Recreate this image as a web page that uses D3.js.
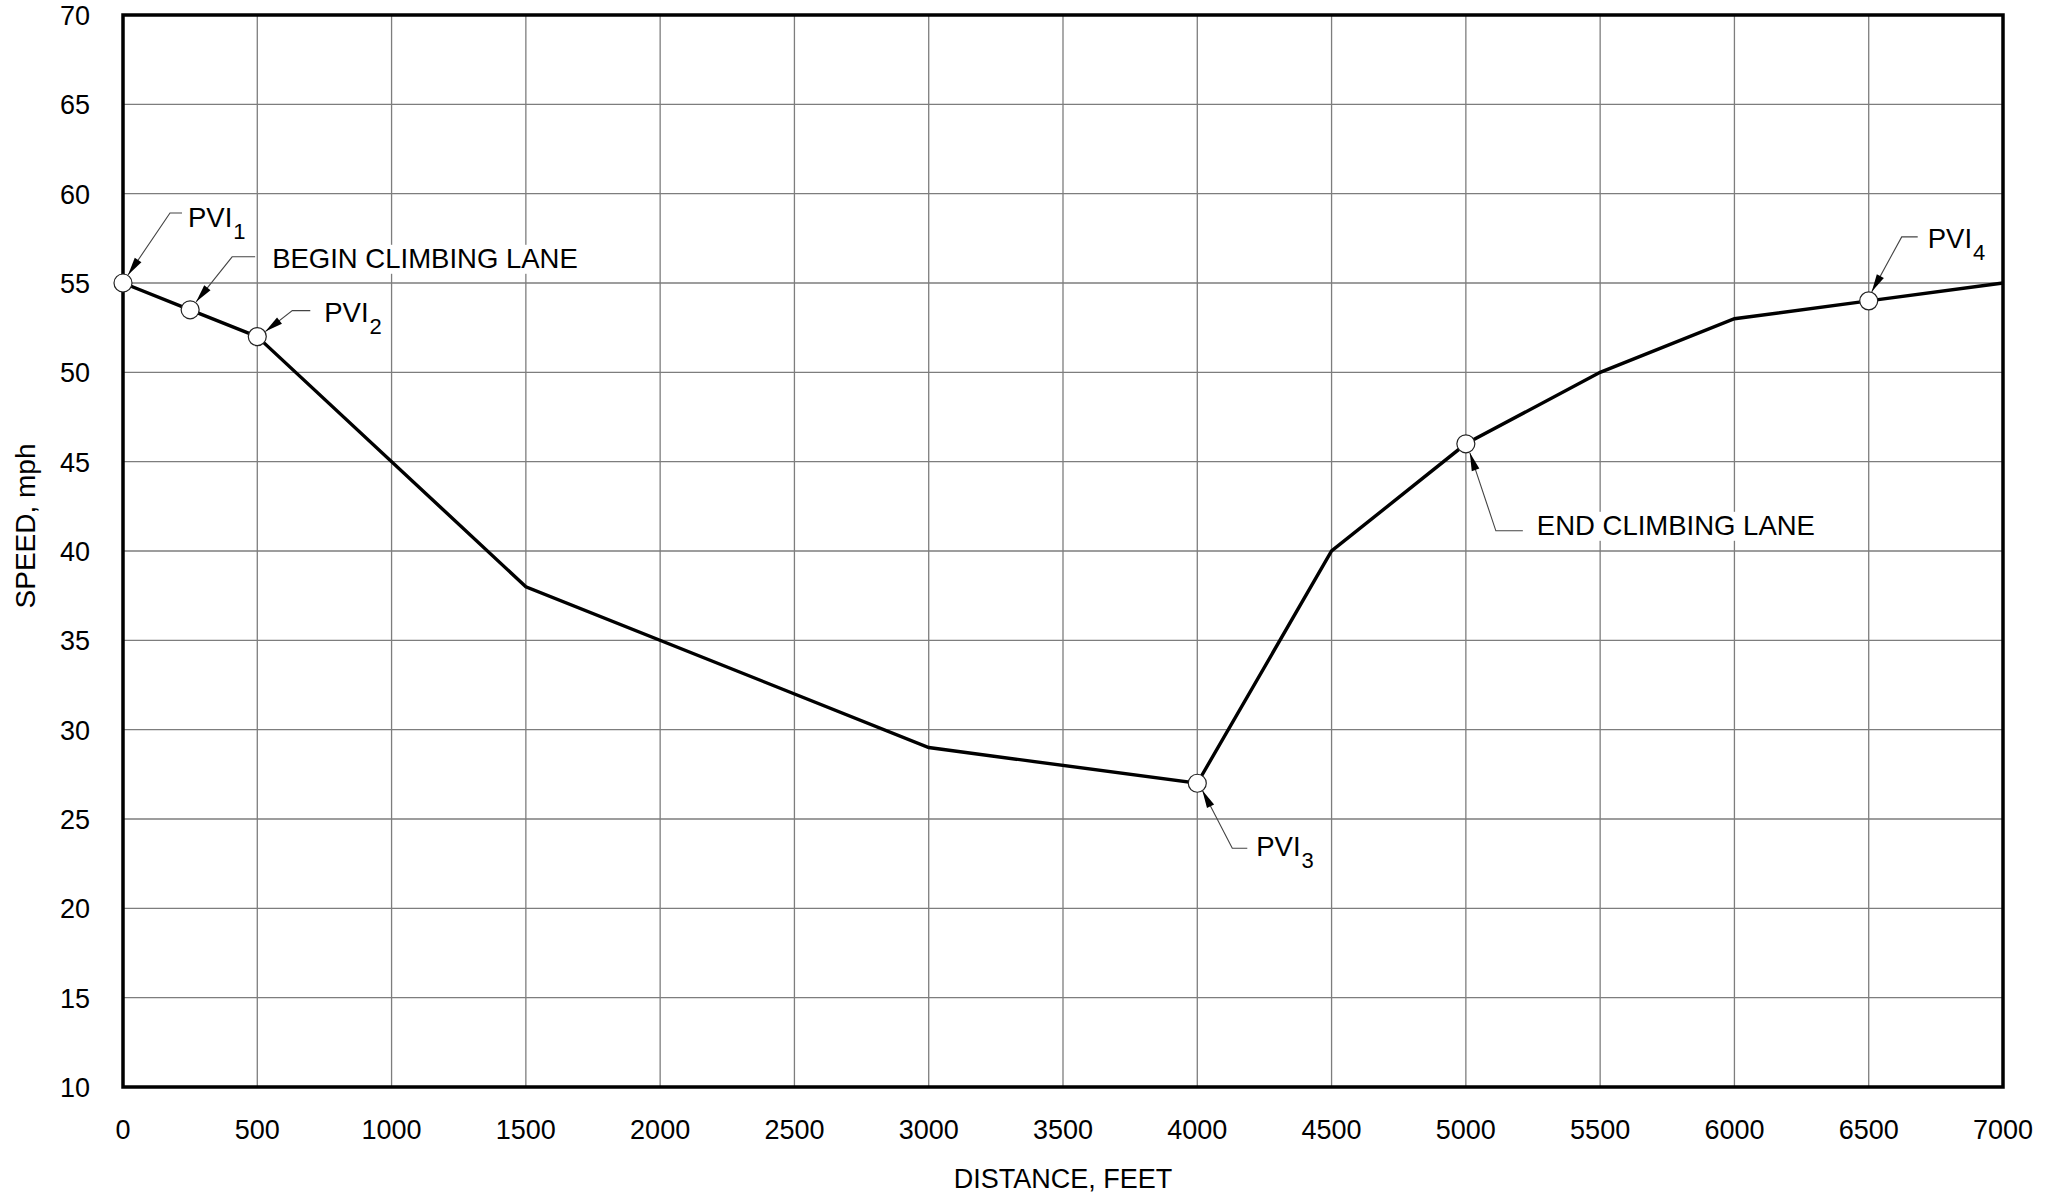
<!DOCTYPE html>
<html>
<head>
<meta charset="utf-8">
<script src="https://cdn.jsdelivr.net/npm/d3@7"></script>
<style>
  body { margin: 0; background: #fff; }
  text { font-family: "Liberation Sans", Arial, sans-serif; fill: #000; }
</style>
</head>
<body>
<svg id="chart"></svg>
<script>
// speed profile vertices (distance ft, speed mph)
const distances = [0, 250, 500, 1500, 3000, 4000, 4500, 5000, 5500, 6000, 6500, 7000];
const speeds = [55, 53.5, 52, 38, 29, 27, 40, 46, 50, 53, 54, 55];

const xTicks = [0, 500, 1000, 1500, 2000, 2500, 3000, 3500, 4000, 4500, 5000, 5500, 6000, 6500, 7000];
const yTicks = [10, 15, 20, 25, 30, 35, 40, 45, 50, 55, 60, 65, 70];

// labelled points on the profile
const calloutDistances = [0, 250, 500, 4000, 5000, 6500];
const calloutSpeeds = [55, 53.5, 52, 27, 46, 54];
const calloutLabels = ["PVI", "BEGIN CLIMBING LANE", "PVI", "PVI", "END CLIMBING LANE", "PVI"];
const calloutSubs = ["1", "", "2", "3", "", "4"];

// leader geometry in px, relative to the marker centre
const calloutLayout = [
  { tip: [5, -8], elbow: [47, -70], end: [59, -70], text: [65, -56] },
  { tip: [6, -8], elbow: [42, -53], end: [65, -53], text: [82, -42] },
  { tip: [8, -5], elbow: [35, -26], end: [53, -26], text: [67, -15] },
  { tip: [5, 7], elbow: [35, 65], end: [50, 65], text: [59, 73] },
  { tip: [4, 9], elbow: [30, 87], end: [57, 87], text: [71, 91] },
  { tip: [3, -9], elbow: [33, -64], end: [49, -64], text: [59, -53] },
];

const width = 2049;
const height = 1197;
const margin = { top: 15, right: 46, bottom: 110, left: 123 };

const svg = d3.select("#chart").attr("width", width).attr("height", height);

const x = d3.scaleLinear().domain([0, 7000]).range([margin.left, width - margin.right]);
const y = d3.scaleLinear().domain([10, 70]).range([height - margin.bottom, margin.top]);

// grid
svg.append("g")
  .selectAll("line")
  .data(xTicks)
  .join("line")
  .attr("x1", (d) => x(d))
  .attr("x2", (d) => x(d))
  .attr("y1", y(10))
  .attr("y2", y(70))
  .attr("stroke", "#7d7d7d")
  .attr("stroke-width", 1.3);

svg.append("g")
  .selectAll("line")
  .data(yTicks)
  .join("line")
  .attr("x1", x(0))
  .attr("x2", x(7000))
  .attr("y1", (d) => y(d))
  .attr("y2", (d) => y(d))
  .attr("stroke", "#7d7d7d")
  .attr("stroke-width", 1.3);

// frame
svg.append("rect")
  .attr("x", x(0))
  .attr("y", y(70))
  .attr("width", x(7000) - x(0))
  .attr("height", y(10) - y(70))
  .attr("fill", "none")
  .attr("stroke", "#000")
  .attr("stroke-width", 3.5);

// tick labels
svg.append("g")
  .selectAll("text")
  .data(xTicks)
  .join("text")
  .attr("x", (d) => x(d))
  .attr("y", y(10) + 52)
  .attr("text-anchor", "middle")
  .attr("font-size", 27)
  .text((d) => d);

svg.append("g")
  .selectAll("text")
  .data(yTicks)
  .join("text")
  .attr("x", 90)
  .attr("y", (d) => y(d) + 10)
  .attr("text-anchor", "end")
  .attr("font-size", 27)
  .text((d) => d);

// axis titles
svg.append("text")
  .attr("x", (x(0) + x(7000)) / 2)
  .attr("y", 1188)
  .attr("text-anchor", "middle")
  .attr("font-size", 27)
  .text("DISTANCE, FEET");

svg.append("text")
  .attr("transform", "translate(35, 526) rotate(-90)")
  .attr("text-anchor", "middle")
  .attr("font-size", 28)
  .text("SPEED, mph");

// speed profile
const line = d3.line()
  .x((d, i) => x(distances[i]))
  .y((d, i) => y(speeds[i]));

svg.append("path")
  .attr("d", line(distances))
  .attr("fill", "none")
  .attr("stroke", "#000")
  .attr("stroke-width", 3.4)
  .attr("stroke-linejoin", "miter");

// markers
svg.append("g")
  .selectAll("circle")
  .data(calloutDistances)
  .join("circle")
  .attr("cx", (d) => x(d))
  .attr("cy", (d, i) => y(calloutSpeeds[i]))
  .attr("r", 9)
  .attr("fill", "#fff")
  .attr("stroke", "#222")
  .attr("stroke-width", 1.2);

// callouts
const callouts = svg.append("g");

calloutDistances.forEach((dist, i) => {
  const cx = x(dist);
  const cy = y(calloutSpeeds[i]);
  const lay = calloutLayout[i];
  const tip = [cx + lay.tip[0], cy + lay.tip[1]];
  const elbow = [cx + lay.elbow[0], cy + lay.elbow[1]];
  const end = [cx + lay.end[0], cy + lay.end[1]];

  callouts.append("path")
    .attr("d", d3.line()([end, elbow, tip]))
    .attr("fill", "none")
    .attr("stroke", "#444")
    .attr("stroke-width", 1.1);

  // arrowhead pointing at the marker
  const dx = tip[0] - elbow[0];
  const dy = tip[1] - elbow[1];
  const len = Math.hypot(dx, dy);
  const ux = dx / len;
  const uy = dy / len;
  const headLen = 18;
  const headHalf = 4;
  const bx = tip[0] - ux * headLen;
  const by = tip[1] - uy * headLen;
  callouts.append("path")
    .attr("d", d3.line()([
      tip,
      [bx - uy * headHalf, by + ux * headHalf],
      [bx + uy * headHalf, by - ux * headHalf],
    ]) + "Z")
    .attr("fill", "#000");

  const bg = callouts.append("rect").attr("fill", "#fff");
  const label = callouts.append("text")
    .attr("x", cx + lay.text[0])
    .attr("y", cy + lay.text[1])
    .attr("font-size", 27.5)
    .text(calloutLabels[i]);

  if (calloutSubs[i]) {
    label.append("tspan")
      .attr("dx", 1)
      .attr("dy", 12)
      .attr("font-size", 22)
      .text(calloutSubs[i]);
  }

  const box = label.node().getBBox();
  bg.attr("x", box.x - 4)
    .attr("y", box.y + 2)
    .attr("width", box.width + 8)
    .attr("height", box.height - 2);
});
</script>
</body>
</html>
